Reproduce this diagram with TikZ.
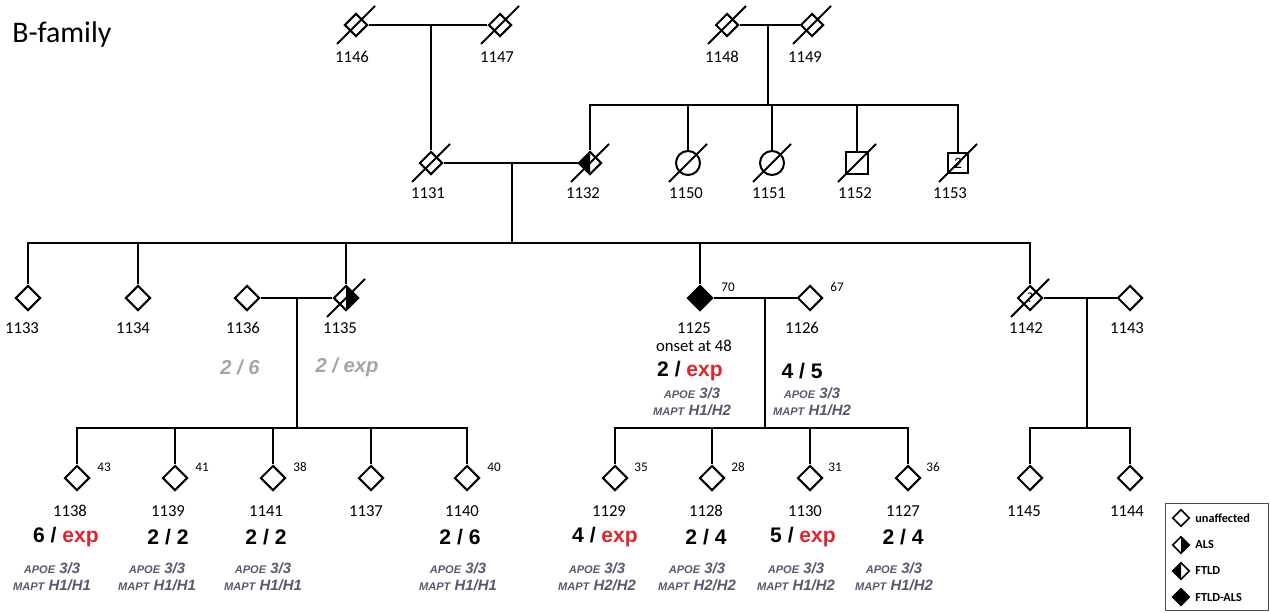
\documentclass[tikz,border=0pt]{standalone}
\usepackage{fontspec}
\setmainfont{Carlito}
\newfontfamily\arialfont{Liberation Sans}
\usepackage{tikz}
\usetikzlibrary{shapes.geometric,calc}
\definecolor{expred}{HTML}{E0242C}
\definecolor{genogray}{HTML}{A5A5A5}
\definecolor{snpgray}{HTML}{5E5670}
\tikzset{
  ind/.style     = {diamond, draw=black, fill=white, line width=1.15pt, minimum size=0.5cm, inner sep=0pt},
  indsm/.style   = {ind, minimum size=0.46cm},
  female/.style  = {circle, draw=black, fill=white, line width=1.15pt, minimum size=0.48cm, inner sep=0pt},
  male/.style    = {rectangle, draw=black, fill=white, line width=1.15pt, minimum size=0.44cm, inner sep=0pt},
  als/.style     = {ind, path picture={\fill[black] (path picture bounding box.north) -- (path picture bounding box.east) -- (path picture bounding box.south) -- cycle;}},
  ftld/.style    = {ind, path picture={\fill[black] (path picture bounding box.north) -- (path picture bounding box.west) -- (path picture bounding box.south) -- cycle;}},
  ftldals/.style = {ind, fill=black},
  rel/.style     = {draw=black, line width=1.15pt},
  slash/.style   = {draw=black, line width=1.15pt},
  idlbl/.style   = {font=\fontsize{9.5}{11}\selectfont, inner sep=0pt},
  agelbl/.style  = {font=\fontsize{7.5}{9}\selectfont, inner sep=0pt},
  geno/.style    = {font=\arialfont\bfseries\fontsize{12}{14}\selectfont, inner sep=0pt},
  oldgeno/.style = {font=\arialfont\bfseries\itshape\fontsize{11.5}{14}\selectfont, text=genogray, inner sep=0pt},
  snp/.style     = {font=\arialfont\bfseries\itshape\fontsize{8.5}{9.6}\selectfont, text=snpgray, align=center, inner sep=0pt},
  legbox/.style  = {draw=black!70, line width=0.5pt},
  legsym/.style  = {minimum size=0.34cm, line width=0.9pt},
  legtxt/.style  = {font=\bfseries\fontsize{7}{8}\selectfont, anchor=west, inner sep=0pt},
}
\newcommand{\deadmark}[1]{\draw[slash] ($(#1)+(-19,19)$) -- ($(#1)+(19,-19)$);}
\newcommand{\gene}[2]{{\fontsize{6.3}{7}\selectfont #1}~#2}

\begin{document}
\begin{tikzpicture}[x=0.02cm,y=-0.02cm]
  \useasboundingbox (0,0) rectangle (1270,612);
  \node[font=\fontsize{17}{20}\selectfont, anchor=west, inner sep=0pt] (title) at (12,35) {B-family};

  % generation I
  \node[indsm] (p1146) at (356,25) {};
  \node[indsm] (p1147) at (500,25) {};
  \node[indsm] (p1148) at (727,25) {};
  \node[indsm] (p1149) at (812,25) {};
  \draw[rel] (p1146) -- (p1147);
  \draw[rel] (p1148) -- (p1149);
  \foreach \p in {1146,1147,1148,1149} {\deadmark{p\p}}
  \node[idlbl] at (352,57) {1146};
  \node[idlbl] at (497,57) {1147};
  \node[idlbl] at (722,57) {1148};
  \node[idlbl] at (805,57) {1149};
  \coordinate (m1) at (431,25);
  \coordinate (m2) at (768,25);
  \coordinate (s2) at (768,105);

  % generation II
  \node[indsm] (p1131) at (431,163) {};
  \node[ftld, minimum size=0.46cm] (p1132) at (590,163) {};
  \node[female] (p1150) at (688,163) {};
  \node[female] (p1151) at (772,163) {};
  \node[male] (p1152) at (857,163) {};
  \node[male, minimum size=0.4cm, font=\fontsize{9}{10}\selectfont] (p1153) at (958,163) {2};
  \draw[rel] (m1) -- (p1131);
  \draw[rel] (m2) -- (s2);
  \foreach \p in {1132,1150,1151,1152,1153} {\draw[rel] (s2) -| (p\p);}
  \draw[rel] (p1131) -- (p1132);
  \foreach \p in {1131,1132,1150,1151,1152,1153} {\deadmark{p\p}}
  \node[idlbl] at (428,193) {1131};
  \node[idlbl] at (583,193) {1132};
  \node[idlbl] at (686,193) {1150};
  \node[idlbl] at (769,193) {1151};
  \node[idlbl] at (855,193) {1152};
  \node[idlbl] at (950,193) {1153};
  \coordinate (m3) at (512,163);
  \coordinate (s3) at (512,243);

  % generation III
  \node[ind] (p1133) at (28,298) {};
  \node[ind] (p1134) at (138,298) {};
  \node[ind] (p1136) at (247,298) {};
  \node[als] (p1135) at (346,298) {};
  \node[ftldals] (p1125) at (700,298) {};
  \node[ind] (p1126) at (810,298) {};
  \node[ind, font=\fontsize{8}{9}\selectfont] (p1142) at (1030,298) {?};
  \node[ind] (p1143) at (1130,298) {};
  \draw[rel] (m3) -- (s3);
  \foreach \p in {1133,1134,1135,1125,1142} {\draw[rel] (s3) -| (p\p);}
  \draw[rel] (p1136) -- (p1135);
  \draw[rel] (p1125) -- (p1126);
  \draw[rel] (p1142) -- (p1143);
  \deadmark{p1135}
  \deadmark{p1142}
  \node[idlbl] at (22,328) {1133};
  \node[idlbl] at (133,328) {1134};
  \node[idlbl] at (243,328) {1136};
  \node[idlbl] at (340,328) {1135};
  \node[idlbl] at (694,328) {1125};
  \node[idlbl] at (694,346) {onset at 48};
  \node[idlbl] at (802,328) {1126};
  \node[idlbl] at (1026,328) {1142};
  \node[idlbl] at (1127,328) {1143};
  \node[agelbl] at (728,287) {70};
  \node[agelbl] at (837,287) {67};
  \node[oldgeno] at (240,367) {2 / 6};
  \node[oldgeno] at (347,367) {2 / exp};
  \node[geno] at (690,371) {2 / \textcolor{expred}{exp}};
  \node[geno] at (802,371) {4 / 5};
  \node[snp] at (692,402) {\gene{APOE}{3/3}\\\gene{MAPT}{H1/H2}};
  \node[snp] at (812,402) {\gene{APOE}{3/3}\\\gene{MAPT}{H1/H2}};
  \coordinate (m4) at (297,298);
  \coordinate (s4) at (297,428);
  \coordinate (m5) at (765,298);
  \coordinate (s5) at (765,428);
  \coordinate (m6) at (1087,298);
  \coordinate (s6) at (1087,428);
  \draw[rel] (m4) -- (s4);
  \draw[rel] (m5) -- (s5);
  \draw[rel] (m6) -- (s6);

  % generation IV
  \node[ind] (p1138) at (77,478) {};
  \node[ind] (p1139) at (175,478) {};
  \node[ind] (p1141) at (273,478) {};
  \node[ind] (p1137) at (371,478) {};
  \node[ind] (p1140) at (467,478) {};
  \node[ind] (p1129) at (615,478) {};
  \node[ind] (p1128) at (712,478) {};
  \node[ind] (p1130) at (810,478) {};
  \node[ind] (p1127) at (908,478) {};
  \node[ind] (p1145) at (1030,478) {};
  \node[ind] (p1144) at (1130,478) {};
  \foreach \p in {1138,1139,1141,1137,1140} {\draw[rel] (s4) -| (p\p);}
  \foreach \p in {1129,1128,1130,1127} {\draw[rel] (s5) -| (p\p);}
  \foreach \p in {1145,1144} {\draw[rel] (s6) -| (p\p);}

  \node[agelbl] at (104,467) {43};
  \node[agelbl] at (202,467) {41};
  \node[agelbl] at (300,467) {38};
  \node[agelbl] at (494,467) {40};
  \node[agelbl] at (641,467) {35};
  \node[agelbl] at (738,467) {28};
  \node[agelbl] at (835,467) {31};
  \node[agelbl] at (933,467) {36};

  \node[idlbl] at (70,511) {1138};
  \node[idlbl] at (168,511) {1139};
  \node[idlbl] at (266,511) {1141};
  \node[idlbl] at (366,511) {1137};
  \node[idlbl] at (462,511) {1140};
  \node[idlbl] at (609,511) {1129};
  \node[idlbl] at (706,511) {1128};
  \node[idlbl] at (805,511) {1130};
  \node[idlbl] at (903,511) {1127};
  \node[idlbl] at (1024,511) {1145};
  \node[idlbl] at (1127,511) {1144};

  \node[geno] at (66,537) {6 / \textcolor{expred}{exp}};
  \node[geno] at (168,537) {2 / 2};
  \node[geno] at (266,537) {2 / 2};
  \node[geno] at (460,537) {2 / 6};
  \node[geno] at (605,537) {4 / \textcolor{expred}{exp}};
  \node[geno] at (706,537) {2 / 4};
  \node[geno] at (803,537) {5 / \textcolor{expred}{exp}};
  \node[geno] at (903,537) {2 / 4};

  \node[snp] at (52,577) {\gene{APOE}{3/3}\\\gene{MAPT}{H1/H1}};
  \node[snp] at (157,577) {\gene{APOE}{3/3}\\\gene{MAPT}{H1/H1}};
  \node[snp] at (263,577) {\gene{APOE}{3/3}\\\gene{MAPT}{H1/H1}};
  \node[snp] at (458,577) {\gene{APOE}{3/3}\\\gene{MAPT}{H1/H1}};
  \node[snp] at (597,577) {\gene{APOE}{3/3}\\\gene{MAPT}{H2/H2}};
  \node[snp] at (697,577) {\gene{APOE}{3/3}\\\gene{MAPT}{H2/H2}};
  \node[snp] at (796,577) {\gene{APOE}{3/3}\\\gene{MAPT}{H1/H2}};
  \node[snp] at (894,577) {\gene{APOE}{3/3}\\\gene{MAPT}{H1/H2}};

  % legend
  \draw[legbox] (1165,503) rectangle (1268,610);
  \node[ind, legsym] (lg1) at (1181,518) {};
  \node[als, legsym] (lg2) at (1181,545) {};
  \node[ftld, legsym] (lg3) at (1181,571) {};
  \node[ftldals, legsym] (lg4) at (1181,597) {};
  \node[legtxt] at (1195,518) {unaffected};
  \node[legtxt] at (1195,545) {ALS};
  \node[legtxt] at (1195,571) {FTLD};
  \node[legtxt] at (1195,597) {FTLD-ALS};
\end{tikzpicture}
\end{document}
